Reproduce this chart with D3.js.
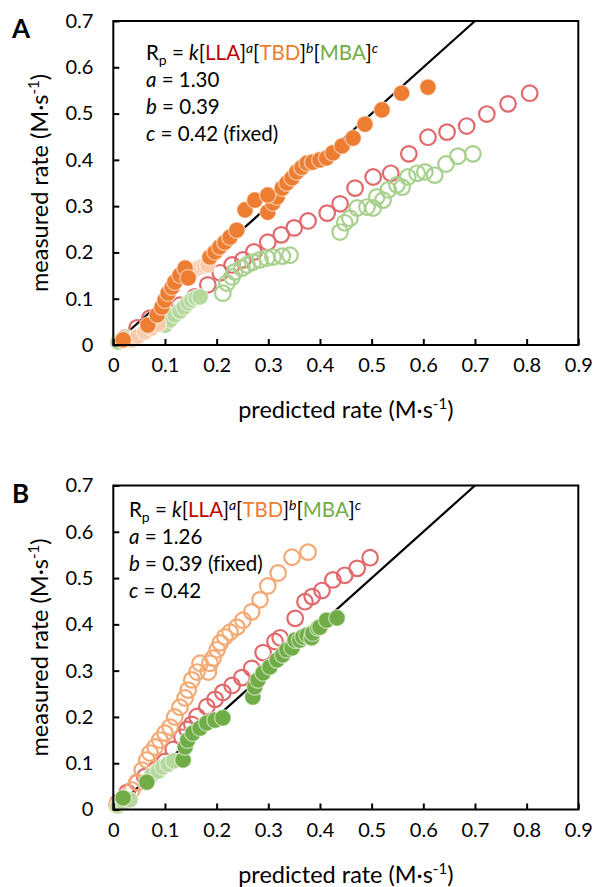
<!DOCTYPE html>
<html><head><meta charset="utf-8">
<script src="https://cdn.jsdelivr.net/npm/d3@7"></script>
<style>body{margin:0;background:#fff}svg{display:block}text{font-family:Lato,'Open Sans',sans-serif;fill:#000;font-variant-ligatures:none;font-feature-settings:"liga" 0}</style>
</head><body><svg id="c" width="595" height="887"></svg>
<script>
const xTicks=[0,0.1,0.2,0.3,0.4,0.5,0.6,0.7,0.8,0.9];
const yTicks=[0,0.1,0.2,0.3,0.4,0.5,0.6,0.7];
const xTitle="predicted rate (M·s";
const yTitle="measured rate (M·s";
const legendA=[["a"," = 1.30"],["b"," = 0.39"],["c"," = 0.42 (fixed)"]];
const legendB=[["a"," = 1.26"],["b"," = 0.39 (fixed)"],["c"," = 0.42"]];

// Panel A
const A_LLA=[[0.023,0.015],[0.046,0.037],[0.071,0.058],[0.096,0.071],[0.129,0.086],[0.158,0.104],[0.183,0.130],[0.207,0.156],[0.230,0.173],[0.251,0.184],[0.272,0.201],[0.299,0.222],[0.325,0.238],[0.350,0.253],[0.377,0.268],[0.414,0.285],[0.439,0.305],[0.468,0.339],[0.503,0.363],[0.537,0.371],[0.572,0.413],[0.609,0.449],[0.646,0.460],[0.684,0.473],[0.723,0.499],[0.764,0.521],[0.806,0.544]];
const A_MBA=[[0.212,0.112],[0.220,0.134],[0.230,0.147],[0.235,0.158],[0.249,0.166],[0.259,0.173],[0.270,0.179],[0.284,0.184],[0.297,0.188],[0.309,0.190],[0.327,0.192],[0.342,0.194],[0.439,0.244],[0.448,0.264],[0.458,0.274],[0.472,0.296],[0.491,0.298],[0.503,0.296],[0.510,0.320],[0.522,0.313],[0.532,0.335],[0.549,0.346],[0.559,0.341],[0.570,0.363],[0.588,0.371],[0.603,0.374],[0.622,0.367],[0.644,0.391],[0.667,0.408],[0.696,0.413]];
const A_MBA_light=[[0.009,0.006],[0.017,0.011],[0.027,0.015],[0.100,0.043],[0.110,0.054],[0.119,0.065],[0.129,0.073],[0.137,0.082],[0.145,0.091],[0.152,0.097],[0.160,0.102],[0.168,0.104]];
const A_TBD_light=[[0.036,0.011],[0.048,0.019],[0.061,0.028],[0.075,0.037],[0.087,0.045],[0.152,0.158],[0.160,0.164],[0.168,0.168],[0.176,0.171],[0.183,0.173]];
const A_TBD=[[0.019,0.011],[0.067,0.043],[0.085,0.065],[0.094,0.082],[0.100,0.097],[0.106,0.112],[0.114,0.125],[0.119,0.136],[0.129,0.151],[0.139,0.166],[0.145,0.145],[0.187,0.190],[0.197,0.201],[0.206,0.212],[0.216,0.222],[0.226,0.233],[0.239,0.248],[0.255,0.292],[0.274,0.313],[0.299,0.287],[0.309,0.307],[0.317,0.320],[0.299,0.324],[0.327,0.339],[0.336,0.350],[0.346,0.361],[0.355,0.374],[0.365,0.384],[0.375,0.393],[0.386,0.395],[0.400,0.400],[0.413,0.404],[0.425,0.415],[0.443,0.430],[0.464,0.447],[0.487,0.477],[0.520,0.508],[0.558,0.544],[0.609,0.557]];

// Panel B
const B_LLA=[[0.009,0.015],[0.027,0.037],[0.046,0.058],[0.061,0.071],[0.081,0.086],[0.100,0.104],[0.116,0.130],[0.133,0.156],[0.143,0.173],[0.152,0.184],[0.162,0.201],[0.181,0.222],[0.197,0.238],[0.212,0.253],[0.230,0.268],[0.249,0.285],[0.268,0.305],[0.290,0.339],[0.313,0.363],[0.323,0.371],[0.352,0.413],[0.371,0.449],[0.385,0.460],[0.404,0.473],[0.425,0.496],[0.448,0.506],[0.472,0.521],[0.497,0.544]];
const B_TBD=[[0.007,0.010],[0.019,0.021],[0.036,0.042],[0.046,0.059],[0.056,0.085],[0.065,0.107],[0.071,0.122],[0.081,0.135],[0.090,0.150],[0.100,0.165],[0.110,0.178],[0.119,0.200],[0.129,0.221],[0.139,0.241],[0.145,0.258],[0.152,0.280],[0.162,0.297],[0.168,0.316],[0.184,0.297],[0.187,0.316],[0.193,0.327],[0.201,0.345],[0.207,0.360],[0.216,0.373],[0.226,0.383],[0.239,0.394],[0.251,0.409],[0.268,0.427],[0.284,0.453],[0.299,0.483],[0.319,0.511],[0.346,0.545],[0.377,0.556]];
const B_MBA_light=[[0.009,0.008],[0.021,0.014],[0.032,0.021],[0.075,0.075],[0.087,0.083],[0.096,0.092],[0.106,0.098],[0.117,0.105]];
const B_MBA=[[0.019,0.025],[0.065,0.059],[0.135,0.107],[0.139,0.135],[0.144,0.150],[0.154,0.165],[0.168,0.176],[0.181,0.187],[0.197,0.193],[0.212,0.198],[0.270,0.243],[0.274,0.265],[0.280,0.280],[0.290,0.295],[0.303,0.308],[0.317,0.323],[0.328,0.334],[0.336,0.345],[0.346,0.349],[0.352,0.366],[0.361,0.366],[0.367,0.373],[0.375,0.377],[0.384,0.371],[0.386,0.381],[0.396,0.392],[0.400,0.394],[0.413,0.409],[0.433,0.414]];
const diag=[[0,0],[0.7,0.7]];

const RED="#E06A6C", ORANGE="#ED7D31", ORANGE_OPEN="#F4AA74", ORANGE_LIGHT="#F8CBAD",
      GREEN="#70AD47", GREEN_OPEN="#A9D18E", GREEN_LIGHT="#B5D89D";
const TXT_RED="#C00000", TXT_OR="#ED7D31", TXT_GR="#70AD47";

const svg=d3.select("#c");
const L=113.3, R=578.3;

function panel(top, letter, legendX, legendY, legendLines, layers){
  const bottom=top+324;
  const x=d3.scaleLinear().domain([0,0.9]).range([L,R]);
  const y=d3.scaleLinear().domain([0,0.7]).range([bottom,top]);
  const g=svg.append("g");
  g.append("path").datum(diag).attr("d",d3.line().x(d=>x(d[0])).y(d=>y(d[1])))
    .attr("stroke","#000").attr("stroke-width",2.2).attr("fill","none");
  layers.forEach(ly=>{
    g.append("g").selectAll("circle").data(ly.data).join("circle")
      .attr("cx",d=>x(d[0])).attr("cy",d=>y(d[1]))
      .attr("r",ly.r)
      .attr("fill",ly.fill||"none")
      .attr("stroke",ly.stroke)
      .attr("stroke-width",ly.sw);
  });
  g.append("rect").attr("x",L).attr("y",top).attr("width",R-L).attr("height",324)
    .attr("fill","none").attr("stroke","#000").attr("stroke-width",2);
  const xa=g.append("g").attr("transform",`translate(0,${bottom})`)
    .call(d3.axisBottom(x).tickValues(xTicks).tickSize(-6).tickPadding(13).tickFormat(d=>d===0?"0":d3.format(".1f")(d)));
  const ya=g.append("g").attr("transform",`translate(${L},0)`)
    .call(d3.axisLeft(y).tickValues(yTicks).tickSize(-6).tickPadding(20).tickFormat(d=>d===0?"0":d3.format(".1f")(d)));
  [xa,ya].forEach(a=>{
    a.select(".domain").remove();
    a.selectAll(".tick line").attr("stroke","#000").attr("stroke-width",2);
    a.selectAll(".tick text").attr("font-size",20).attr("font-family","Lato,'Open Sans',sans-serif").attr("fill","#000");
  });
  xa.selectAll(".tick text").attr("dy","0.71em");
  const xt=g.append("text").attr("x",(L+R)/2).attr("y",bottom+73).attr("text-anchor","middle").attr("font-size",23.5);
  xt.append("tspan").text(xTitle);
  xt.append("tspan").attr("dy",-9).attr("font-size",15).text("-1");
  xt.append("tspan").attr("dy",9).text(")");
  const yt=g.append("text").attr("transform",`translate(48,${(top+bottom)/2}) rotate(-90)`).attr("text-anchor","middle").attr("font-size",23.5);
  yt.append("tspan").text(yTitle);
  yt.append("tspan").attr("dy",-9).attr("font-size",15).text("-1");
  yt.append("tspan").attr("dy",9).text(")");
  g.append("text").attr("x",12).attr("y",top+17).attr("font-size",26).attr("font-weight","bold").text(letter);
  const fs=20.5;
  const t0=g.append("text").attr("x",legendX).attr("y",legendY).attr("font-size",fs);
  const parts=[["R"],["p","sub"],[" = "],["k","it"],["["],["LLA","",TXT_RED],["]"],["a","sup"],["["],["TBD","",TXT_OR],["]"],["b","sup"],["["],["MBA","",TXT_GR],["]"],["c","sup"]];
  let shift=0;
  parts.forEach(p=>{
    const ts=t0.append("tspan").text(p[0]);
    let target=0;
    if(p[1]==="sub"){target=5;ts.attr("font-size",14);}
    if(p[1]==="sup"){target=-7;ts.attr("font-size",14).attr("font-style","italic");}
    if(p[1]==="it"){ts.attr("font-style","italic");}
    if(p[2]) ts.style("fill",p[2]);
    if(target!==shift){ts.attr("dy",target-shift);shift=target;}
  });
  legendLines.forEach((ln,i)=>{
    const t=g.append("text").attr("x",legendX).attr("y",legendY+27*(i+1)).attr("font-size",fs);
    t.append("tspan").attr("font-style","italic").text(ln[0]);
    t.append("tspan").text(ln[1]);
  });
}

panel(21,"A",146,60,legendA,[
  {data:A_LLA,r:7.8,stroke:RED,sw:2.2},
  {data:A_MBA,r:7.8,stroke:GREEN_OPEN,sw:2.2},
  {data:A_MBA_light,r:8.3,fill:GREEN_LIGHT,stroke:"rgba(255,255,255,0.5)",sw:1.5},
  {data:A_TBD_light,r:8.3,fill:ORANGE_LIGHT,stroke:"rgba(255,255,255,0.5)",sw:1.5},
  {data:A_TBD,r:8.3,fill:ORANGE,stroke:"rgba(255,255,255,0.5)",sw:1.5}
]);
panel(485.5,"B",129,517,legendB,[
  {data:B_LLA,r:7.8,stroke:RED,sw:2.2},
  {data:B_TBD,r:7.8,stroke:ORANGE_OPEN,sw:2.2},
  {data:B_MBA_light,r:8.3,fill:GREEN_LIGHT,stroke:"rgba(255,255,255,0.5)",sw:1.5},
  {data:B_MBA,r:8.3,fill:GREEN,stroke:"rgba(255,255,255,0.5)",sw:1.5}
]);
</script></body></html>
